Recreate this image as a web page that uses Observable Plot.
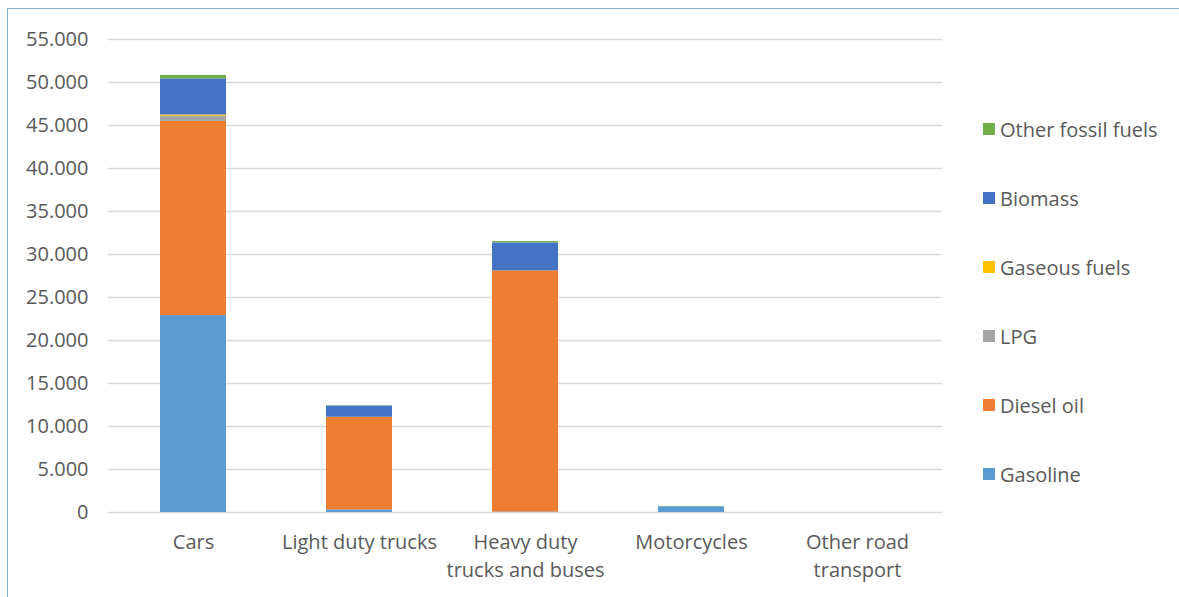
<!DOCTYPE html>
<html>
<head>
<meta charset="utf-8">
<script src="https://cdn.jsdelivr.net/npm/d3@7"></script>
<script src="https://cdn.jsdelivr.net/npm/@observablehq/plot@0.6"></script>
<style>
  html, body { margin: 0; padding: 0; background: #fff; }
  #wrap { position: relative; width: 1179px; height: 597px; overflow: hidden; }
  #frame { position: absolute; left: 7px; top: 8px; right: -2px; bottom: -2px; border-left: 1.5px solid #86b0d4; border-top: 1.5px solid #86b0d4; pointer-events: none; }
  #legend { position: absolute; left: 983px; top: 0; font-family: "Open Sans", sans-serif; font-size: 20px; color: #595959; }
  .item { position: absolute; left: 0; white-space: nowrap; display: flex; align-items: center; }
  .sw { width: 12px; height: 12px; margin-right: 5px; }
</style>
</head>
<body>
<div id="wrap"><div id="chart"></div><div id="legend"></div><div id="frame"></div></div>
<script>
const categories = ["Cars", "Light duty trucks", "Heavy duty\ntrucks and buses", "Motorcycles", "Other road\ntransport"];
const fuels = ["Gasoline", "Diesel oil", "LPG", "Gaseous fuels", "Biomass", "Other fossil fuels"];
const colors = ["#5B9BD5", "#ED7D31", "#A5A5A5", "#FFC000", "#4472C4", "#70AD47"];
const gasoline   = [22900, 300, 50, 660, 0];
const diesel     = [22570, 10780, 28050, 0, 0];
const lpg        = [600, 0, 0, 0, 0];
const gaseous    = [150, 0, 0, 0, 0];
const biomass    = [4200, 1300, 3250, 0, 0];
const otherFossil= [400, 20, 150, 50, 0];
const yTicks = d3.range(0, 55001, 5000);

const series = [gasoline, diesel, lpg, gaseous, biomass, otherFossil];
const rows = [];
categories.forEach((c, i) => fuels.forEach((f, j) => rows.push({category: c, fuel: f, value: series[j][i]})));

const fmt = d3.formatLocale({decimal: ",", thousands: ".", grouping: [3], currency: ["", ""]}).format(",");

const chart = Plot.plot({
  width: 1179,
  height: 597,
  marginLeft: 108,
  marginRight: 237,
  marginTop: 39,
  marginBottom: 85,
  style: {fontFamily: "'Open Sans', sans-serif", fontSize: "20px", color: "#595959", background: "transparent"},
  x: {domain: categories, paddingInner: 0.6, paddingOuter: 0.3, label: null},
  y: {domain: [0, 55000], label: null},
  color: {domain: fuels, range: colors},
  marks: [
    Plot.gridY(yTicks, {stroke: "#d9d9d9", strokeOpacity: 1, strokeWidth: 1.5}),
    Plot.barY(rows, Plot.stackY({x: "category", y: "value", fill: "fuel", order: fuels})),
    Plot.axisY(yTicks, {tickSize: 0, tickPadding: 20, tickFormat: fmt, fontSize: 20, fill: "#595959", label: null}),
    Plot.axisX({tickSize: 0, tickPadding: 17, fontSize: 20, fill: "#595959", lineHeight: 1.4, label: null})
  ]
});
document.getElementById("chart").appendChild(chart);

const legend = document.getElementById("legend");
const tops = [129, 198, 267, 336, 405, 474];
fuels.slice().reverse().forEach((f, k) => {
  const idx = fuels.length - 1 - k;
  const d = document.createElement("div");
  d.className = "item";
  d.style.top = (tops[k] - 14) + "px";
  d.style.height = "28px";
  d.innerHTML = `<span class="sw" style="background:${colors[idx]}"></span><span>${f}</span>`;
  legend.appendChild(d);
});
</script>
</body>
</html>
